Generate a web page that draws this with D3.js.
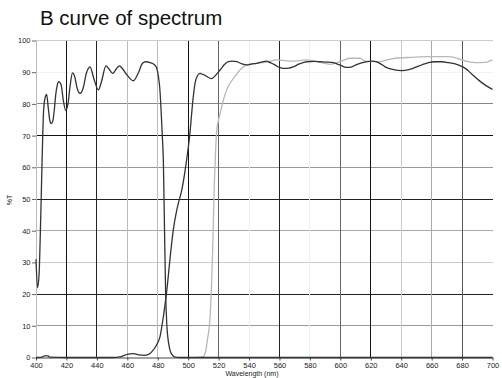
<!DOCTYPE html>
<html><head><meta charset="utf-8">
<script src="https://cdn.jsdelivr.net/npm/d3@7"></script>
<style>body{margin:0;background:#fff}svg{display:block}text{font-family:"Liberation Sans",Arial,sans-serif}</style>
</head><body><svg id="c" width="502" height="378"></svg>
<script>
const title = "B curve of spectrum";
const xTicks = [400,420,440,460,480,500,520,540,560,580,600,620,640,660,680,700];
const yTicks = [0,10,20,30,40,50,60,70,80,90,100];
const vGridColors = {420:"#111",440:"#222",460:"#bbb",480:"#bbb",500:"#111",520:"#666",540:"#eee",560:"#222",580:"#eee",600:"#666",620:"#111",640:"#ccc",660:"#aaa",680:"#555"};
const hGridColors = {10:"#999",20:"#222",30:"#ccc",40:"#aaa",50:"#222",60:"#999",70:"#111",80:"#888",90:"#f2f2f2",100:"#ccc"};
const curveA = [[400,31],[401,22],[402,26],[403,42],[404,62],[405,78],[406,82],[407,83],[408,79],[409,75],[410,73.8],[411,74.5],[412,78],[413,83],[414,86],[415,87],[416.5,86],[418,81],[419.5,78],[421,80],[422.5,86],[424,89.8],[425.5,88.5],[427,85],[429,83.3],[431,85],[433,89.5],[435.5,91.7],[438,88],[441,84.4],[443,87],[446,92],[448,91],[450.4,89.6],[452,90.5],[454.8,92],[457,91],[460,89],[464,87.3],[467,89.5],[470,92.8],[472,93.3],[475,93],[478,92.3],[479.5,91],[480.5,88.5],[481.5,84],[482.2,78],[483,70],[483.7,62],[484.4,42],[485.2,20],[486,10],[487,5],[488,2.4],[489.5,0.8],[491,0.2],[495,0],[700,0]];
const curveB = [[400,0],[404,0.1],[405.5,0.5],[408,0.5],[409,0.1],[420,0],[450,0],[456,0.3],[460,1],[464,1.2],[468,0.8],[471,0.7],[474,1],[476.5,2],[479.3,4],[481.5,6.6],[483.7,12.9],[486,21.3],[488,30.8],[490.2,40.2],[492.5,46.5],[494,49.5],[495.8,52.8],[498,59],[500,66],[501,70],[502.3,77],[503.3,82],[504.5,86.5],[506,88.8],[507.8,89.6],[509.5,89.3],[511.1,89],[513,88.4],[515.5,88],[518,89],[521,90.7],[524,92.5],[526.4,93.3],[529,93.5],[532,93.3],[535,92.7],[538.5,92.3],[542,92.6],[545,92.8],[548,93.2],[551.6,93.5],[554,93],[557,92.3],[560,91.5],[562.5,91.2],[566,91.3],[569,91.7],[573,92.6],[578,93.3],[583,93.4],[586.7,93.3],[591,93.2],[595.4,93],[600,92.2],[604,91.5],[607,91.6],[611,92.5],[616,93.2],[621.7,93.5],[626,92.8],[629.4,91.7],[635,90.8],[640.4,90.5],[645,90.8],[649.2,91.5],[654,92.4],[658,93],[662,93.3],[666.7,93.3],[671,93],[675.5,92.6],[679,92],[682.1,91.2],[686,89.6],[690.9,87.5],[695,86],[700,84.6]];
const curveC = [[505,0],[508,0.1],[510,0.3],[511.5,2],[512.6,5.5],[514.4,12.9],[515.3,22],[516.1,33.9],[517.2,55],[518,65],[518.8,71.8],[520,75],[521,77],[523,81],[525.3,84.4],[527.5,86.5],[529.7,88],[532,89.5],[534,90.7],[538.5,92.3],[545,92.8],[551.6,93.2],[558,93.9],[564.8,93.6],[570.2,93.5],[578,93.9],[586.7,93.1],[593.2,92.5],[599.8,93.3],[606.4,94.4],[613,94.4],[616.3,93.5],[625,93.3],[630,93.8],[636,94.4],[647,94.7],[657.9,94.9],[671,94.9],[676,94.5],[679.8,93.9],[684,93.3],[688.6,93],[695.2,93.1],[700,93.9]];

const svg = d3.select("#c");
const x = d3.scaleLinear().domain([400,700]).range([36,492.5]);
const y = d3.scaleLinear().domain([0,100]).range([357.5,40.5]);

svg.append("text").attr("x",40).attr("y",25).attr("font-size",20.5).attr("fill","#111").text(title);

// horizontal grid
svg.append("g").selectAll("line").data(yTicks.filter(d=>d>0)).join("line")
  .attr("x1",x(400)).attr("x2",x(700)).attr("y1",d=>y(d)).attr("y2",d=>y(d))
  .attr("stroke",d=>hGridColors[d]).attr("stroke-width",1).attr("shape-rendering","crispEdges");
// vertical grid
svg.append("g").selectAll("line").data(xTicks.filter(d=>d>400&&d<700)).join("line")
  .attr("x1",d=>x(d)).attr("x2",d=>x(d)).attr("y1",y(100)).attr("y2",y(0))
  .attr("stroke",d=>vGridColors[d]).attr("stroke-width",1).attr("shape-rendering","crispEdges");

// axes
const xAxis = d3.axisBottom(x).tickValues(xTicks).tickSize(3).tickSizeOuter(0).tickPadding(2);
const gx = svg.append("g").attr("transform",`translate(0,${y(0)})`).call(xAxis);
gx.select(".domain").attr("stroke","#444");
gx.selectAll(".tick line").attr("stroke","#444");
gx.selectAll("text").attr("font-size",7.5).attr("fill","#222").attr("font-family","Liberation Sans, Arial, sans-serif");

const yAxis = d3.axisLeft(y).tickValues(yTicks).tickSize(4).tickSizeOuter(0).tickPadding(1.5);
const gy = svg.append("g").attr("transform",`translate(${x(400)},0)`).call(yAxis);
gy.select(".domain").attr("stroke","#bbb");
gy.selectAll(".tick line").attr("stroke","#666");
gy.selectAll("text").attr("font-size",7.5).attr("fill","#222").attr("font-family","Liberation Sans, Arial, sans-serif");

svg.append("text").attr("transform","translate(12,200) rotate(-90)").attr("text-anchor","middle")
  .attr("font-size",7).attr("fill","#222").text("%T");
svg.append("text").attr("x",252).attr("y",376).attr("text-anchor","middle")
  .attr("font-size",7).attr("fill","#222").text("Wavelength (nm)");

const line = d3.line().x(d=>x(d[0])).y(d=>y(d[1])).curve(d3.curveMonotoneX);
svg.append("path").datum(curveC).attr("d",line).attr("fill","none").attr("stroke","#b8b8b8").attr("stroke-width",1.3);
svg.append("path").datum(curveB).attr("d",line).attr("fill","none").attr("stroke","#333").attr("stroke-width",1.3);
svg.append("path").datum(curveA).attr("d",line).attr("fill","none").attr("stroke","#333").attr("stroke-width",1.3);
</script></body></html>
